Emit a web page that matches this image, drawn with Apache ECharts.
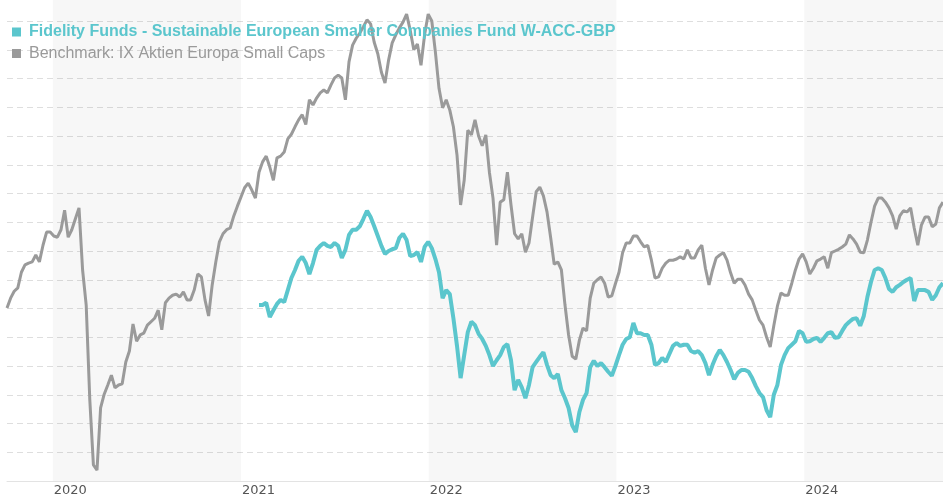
<!DOCTYPE html>
<html>
<head>
<meta charset="utf-8">
<title>Fund vs Benchmark</title>
<script src="https://cdn.jsdelivr.net/npm/echarts@6/dist/echarts.min.js"></script>
<style>
  html, body { margin: 0; padding: 0; background: #fff; }
  #main { width: 943px; height: 500px; }
</style>
</head>
<body>
<div id="main"></div>
<script>
// weekly closes (Fridays), first week 2019-10-04, both series end on the same week
var firstWeek = [2019, 9, 4];

// performance in % since first week
var benchmark = [
  0.1, 1.8, 3.0, 3.6, 6.3, 7.6, 7.9, 8.1, 9.3, 8.1,
  11.0, 13.3, 13.3, 12.6, 12.4, 13.7, 17.1, 12.4, 13.7, 15.6,
  17.5, 6.7, 0.6, -15.9, -27.2, -28.1, -17.3, -14.9, -13.3, -11.6,
  -13.8, -13.3, -13.1, -9.3, -7.4, -2.7, -5.7, -4.6, -4.3, -2.9,
  -2.3, -1.7, -0.3, -3.7, 1.0, 1.8, 2.3, 2.5, 2.0, 2.9,
  1.5, 1.5, 3.2, 6.0, 5.5, 1.5, -1.3, 4.1, 8.1, 11.6,
  13.0, 13.7, 14.0, 16.1, 17.8, 19.4, 21.0, 21.8, 20.6, 19.2,
  23.7, 25.5, 26.5, 24.6, 22.3, 26.2, 26.5, 27.2, 29.5, 30.3,
  31.6, 32.8, 33.7, 32.0, 36.3, 35.4, 36.6, 37.5, 38.0, 37.5,
  38.9, 40.1, 40.6, 40.1, 36.3, 42.9, 45.8, 47.0, 47.9, 49.0,
  50.2, 49.5, 46.3, 44.3, 41.1, 39.2, 43.2, 46.2, 47.6, 48.8,
  49.8, 51.2, 48.4, 45.0, 46.0, 42.3, 47.6, 51.2, 50.0, 44.6,
  38.3, 34.9, 36.3, 34.5, 31.6, 26.7, 18.0, 22.3, 31.0, 30.2,
  32.8, 30.0, 28.3, 30.2, 23.7, 19.2, 11.0, 18.5, 18.9, 23.7,
  18.0, 13.0, 12.1, 13.0, 9.8, 11.4, 15.9, 20.3, 21.1, 19.6,
  16.8, 12.4, 7.7, 8.1, 6.7, 0.6, -4.6, -8.3, -8.8, -5.5,
  -3.4, -3.9, 1.8, 4.4, 5.0, 5.5, 4.4, 2.0, 2.2, 4.3,
  6.3, 9.7, 11.4, 11.4, 12.6, 12.6, 11.6, 10.7, 11.0, 8.4,
  5.3, 5.5, 7.0, 7.9, 8.4, 8.4, 8.6, 9.0, 8.6, 10.2,
  8.8, 8.8, 10.2, 11.0, 7.0, 4.1, 6.7, 8.8, 9.3, 9.7,
  8.4, 6.2, 4.4, 5.1, 5.1, 4.1, 2.5, 1.5, -0.3, -2.0,
  -2.9, -5.0, -6.7, -3.0, 0.4, 2.7, 2.3, 2.3, 4.4, 6.7,
  8.6, 9.5, 8.1, 6.0, 7.0, 8.3, 8.6, 9.0, 7.0, 9.7,
  10.0, 10.3, 10.7, 11.2, 12.8, 12.1, 11.2, 9.8, 9.7, 11.9,
  15.0, 17.8, 19.2, 19.2, 18.5, 17.5, 16.1, 13.8, 16.1, 17.0,
  16.8, 17.5, 14.0, 11.0, 14.5, 15.9, 15.9, 14.2, 14.7, 17.5,
  18.5
];

// fund starts in Feb 2021 (rebased onto the benchmark level)
var fund = [
  0.6, 0.6, 1.0, -1.5, -0.3, 0.8, 1.5, 1.1, 3.2, 5.3,
  6.7, 8.3, 9.0, 7.9, 6.0, 7.9, 10.2, 10.9, 11.4, 10.9,
  10.7, 11.4, 10.9, 8.8, 10.2, 12.8, 13.7, 13.7, 14.3, 15.6,
  17.0, 15.9, 14.3, 12.6, 10.9, 9.5, 10.0, 10.3, 10.5, 12.3,
  13.0, 11.9, 9.1, 9.3, 9.8, 8.1, 10.7, 11.6, 10.5, 8.6,
  6.3, 1.8, 3.2, 2.5, -1.7, -6.5, -12.1, -8.1, -4.1, -2.3,
  -2.9, -4.4, -5.3, -6.5, -8.1, -10.0, -9.0, -8.1, -6.7, -6.2,
  -9.0, -14.2, -12.4, -13.7, -15.6, -13.3, -10.2, -9.3, -8.4, -7.6,
  -9.8, -11.6, -12.1, -11.4, -14.2, -15.6, -17.3, -20.3, -21.5, -18.0,
  -15.9, -14.7, -10.2, -9.1, -10.0, -9.5, -10.2, -11.0, -11.7, -10.0,
  -8.1, -6.3, -5.3, -5.0, -2.5, -4.3, -4.3, -4.6, -4.6, -6.3,
  -9.8, -9.5, -8.6, -9.3, -7.9, -6.5, -6.0, -6.5, -6.3, -6.3,
  -7.4, -7.7, -7.4, -8.1, -9.5, -11.6, -9.8, -8.3, -7.2, -8.1,
  -9.3, -10.7, -12.3, -11.2, -10.7, -10.7, -11.0, -12.1, -13.5, -14.7,
  -15.4, -17.7, -18.9, -15.0, -13.3, -9.8, -8.1, -6.9, -6.3, -5.7,
  -3.9, -4.3, -5.8, -5.7, -5.3, -5.1, -5.8, -5.1, -4.3, -4.1,
  -5.1, -5.0, -3.9, -2.9, -2.3, -1.8, -1.7, -3.0, -1.3, 2.0,
  4.6, 6.7, 7.0, 6.7, 5.3, 3.4, 2.9, 3.7, 4.1, 4.6,
  5.0, 5.3, 1.3, 3.2, 3.2, 3.2, 2.9, 1.5, 2.3, 3.7,
  4.4
];

var fundName = 'Fidelity Funds - Sustainable European Smaller Companies Fund W-ACC-GBP';
var benchName = 'Benchmark: IX Aktien Europa Small Caps';
var shadedYears = [2020, 2022, 2024];

var WEEK = 7 * 24 * 3600 * 1000;
var t0 = new Date(firstWeek[0], firstWeek[1], firstWeek[2]).getTime();
var weeks = benchmark.map(function (v, i) { return t0 + i * WEEK; });
var lastWeek = weeks[weeks.length - 1];
var fundOffset = benchmark.length - fund.length;

var benchData = benchmark.map(function (v, i) { return [weeks[i], v]; });
var fundData = fund.map(function (v, i) { return [weeks[i + fundOffset], v]; });

var bands = shadedYears.map(function (y) {
  var end = Math.min(new Date(y + 1, 0, 1).getTime(), lastWeek);
  return [{ xAxis: new Date(y, 0, 1).getTime() }, { xAxis: end }];
});

var chart = echarts.init(document.getElementById('main'));

chart.setOption({
  animation: false,
  backgroundColor: '#fff',
  grid: {
    left: 7,
    right: 0,
    top: -7.75,
    bottom: 19,
    outerBoundsMode: 'none'
  },
  legend: {
    orient: 'vertical',
    left: 7,
    top: 18,
    icon: 'rect',
    itemWidth: 9,
    itemHeight: 9,
    itemGap: 3.5,
    selectedMode: false,
    textStyle: {
      fontFamily: 'Liberation Sans, Arial, sans-serif',
      fontSize: 16,
      lineHeight: 18,
      padding: [0, 0, 0, 3]
    },
    data: [
      { name: fundName, textStyle: { color: '#5bc6cd', fontWeight: 'bold' } },
      { name: benchName, textStyle: { color: '#9a9a9a' } }
    ]
  },
  xAxis: {
    type: 'time',
    min: weeks[0],
    max: lastWeek,
    minInterval: 365 * 24 * 3600 * 1000,
    maxInterval: 366 * 24 * 3600 * 1000,
    axisLine: { onZero: false, lineStyle: { color: '#e3e3e3', width: 1 } },
    axisTick: { show: false },
    splitLine: { show: false },
    axisLabel: {
      align: 'left',
      margin: 3,
      padding: [0, 0, 0, 1],
      color: '#555',
      fontFamily: 'DejaVu Sans, Verdana, sans-serif',
      fontSize: 13,
      hideOverlap: false,
      formatter: function (val) {
        var d = new Date(val);
        if (d.getMonth() === 0 && d.getDate() === 1) {
          return String(d.getFullYear());
        }
        return '';
      }
    }
  },
  yAxis: {
    type: 'value',
    min: -30,
    max: 55,
    interval: 5,
    axisLine: { show: false },
    axisTick: { show: false },
    axisLabel: { show: false },
    splitLine: {
      lineStyle: { color: '#dedede', type: [6, 4], width: 1 }
    }
  },
  series: [
    {
      name: benchName,
      type: 'line',
      data: benchData,
      showSymbol: false,
      color: '#9a9a9a',
      lineStyle: { width: 3, color: '#9a9a9a' },
      markArea: {
        silent: true,
        itemStyle: { color: 'rgba(0,0,0,0.03)' },
        data: bands
      }
    },
    {
      name: fundName,
      type: 'line',
      data: fundData,
      showSymbol: false,
      color: '#5bc6cd',
      lineStyle: { width: 4, color: '#5bc6cd' }
    }
  ]
});
</script>
</body>
</html>
